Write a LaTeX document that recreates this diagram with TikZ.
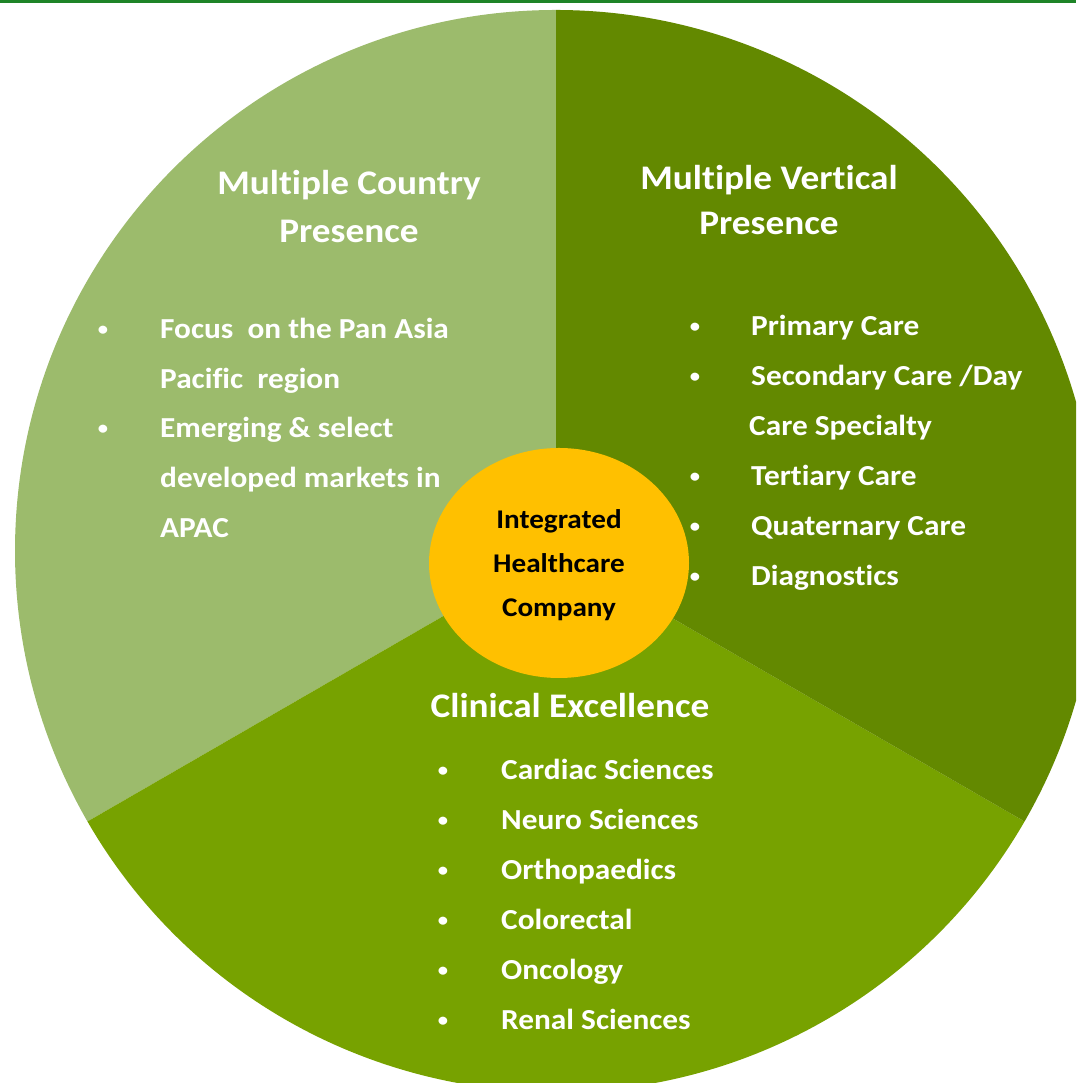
\documentclass[tikz,border=0pt]{standalone}
\usepackage{fontspec}
\setmainfont{Carlito}[FakeStretch=1.08,Ligatures=NoCommon]
\usepackage{xcolor}

\definecolor{countrygreen}{HTML}{9CBB6C}
\definecolor{verticalgreen}{HTML}{638900}
\definecolor{clinicalgreen}{HTML}{77A200}
\definecolor{hubyellow}{HTML}{FFC000}
\definecolor{bargreen}{HTML}{1E8427}

\tikzset{
  headline/.style={anchor=base,text=white,inner sep=0pt,font=\fontsize{34.5}{42}\selectfont\bfseries},
  item/.style={anchor=base west,text=white,inner sep=0pt,font=\fontsize{29}{35}\selectfont\bfseries},
  dot/.style={anchor=base,text=white,inner sep=0pt,yshift=3pt,font=\fontsize{19}{24}\selectfont\bfseries},
  hubtext/.style={anchor=base,text=black,inner sep=0pt,font=\fontsize{27}{32}\selectfont\bfseries}
}

\begin{document}
\begin{tikzpicture}[x=1pt,y=1pt,radius=541]
    \useasboundingbox (0,0) rectangle (1076,1083);
    \clip (0,0) rectangle (1076,1083);
    \fill[bargreen] (0,1080) rectangle (1076,1083);

    % three sectors of the wheel
    \coordinate (c) at (556,532);
    \begin{scope}
      \path[fill=countrygreen] (c) -- ++(90:541) arc [start angle=90, end angle=210] -- cycle;
      \path[fill=clinicalgreen] (c) -- ++(210:541) arc [start angle=210, end angle=330] -- cycle;
      \path[fill=verticalgreen] (c) -- ++(330:541) arc [start angle=-30, end angle=90] -- cycle;
    \end{scope}

    % hub
    \path[fill=hubyellow] (559,520) ellipse [x radius=130, y radius=115];
    \node[hubtext] (hub1) at (559,554) {Integrated};
    \node[hubtext] (hub2) at (559,510) {Healthcare};
    \node[hubtext] (hub3) at (559,466) {Company};

    % left sector
    \node[headline] (country1) at (349,888) {Multiple Country};
    \node[headline] (country2) at (349,840) {Presence};
    \node[dot] (cdot1) at (103,744) {•};
    \node[item] (citem1) at (160,744) {Focus\ \ on the Pan Asia};
    \node[item] (citem2) at (160,694) {Pacific\ \ region};
    \node[dot] (cdot2) at (103,645) {•};
    \node[item] (citem3) at (160,645) {Emerging \& select};
    \node[item] (citem4) at (160,595) {developed markets in};
    \node[item] (citem5) at (160,545) {APAC};

    % right sector
    \node[headline] (vertical1) at (769,893) {Multiple Vertical};
    \node[headline] (vertical2) at (769,848) {Presence};
    \node[dot] (vdot1) at (695,747) {•};
    \node[item] (vitem1) at (751,747) {Primary Care};
    \node[dot] (vdot2) at (695,697) {•};
    \node[item] (vitem2) at (751,697) {Secondary Care /Day};
    \node[item] (vitem3) at (749,647) {Care Specialty};
    \node[dot] (vdot3) at (695,597) {•};
    \node[item] (vitem4) at (751,597) {Tertiary Care};
    \node[dot] (vdot4) at (695,547) {•};
    \node[item] (vitem5) at (751,547) {Quaternary Care};
    \node[dot] (vdot5) at (695,497) {•};
    \node[item] (vitem6) at (751,497) {Diagnostics};

    % bottom sector
    \node[headline] (clinical) at (570,365) {Clinical Excellence};
    \node[dot] (kdot1) at (443,303) {•};
    \node[item] (kitem1) at (501,303) {Cardiac Sciences};
    \node[dot] (kdot2) at (443,253) {•};
    \node[item] (kitem2) at (501,253) {Neuro Sciences};
    \node[dot] (kdot3) at (443,203) {•};
    \node[item] (kitem3) at (501,203) {Orthopaedics};
    \node[dot] (kdot4) at (443,153) {•};
    \node[item] (kitem4) at (501,153) {Colorectal};
    \node[dot] (kdot5) at (443,103) {•};
    \node[item] (kitem5) at (501,103) {Oncology};
    \node[dot] (kdot6) at (443,53) {•};
    \node[item] (kitem6) at (501,53) {Renal Sciences};
  \end{tikzpicture}
\end{document}
